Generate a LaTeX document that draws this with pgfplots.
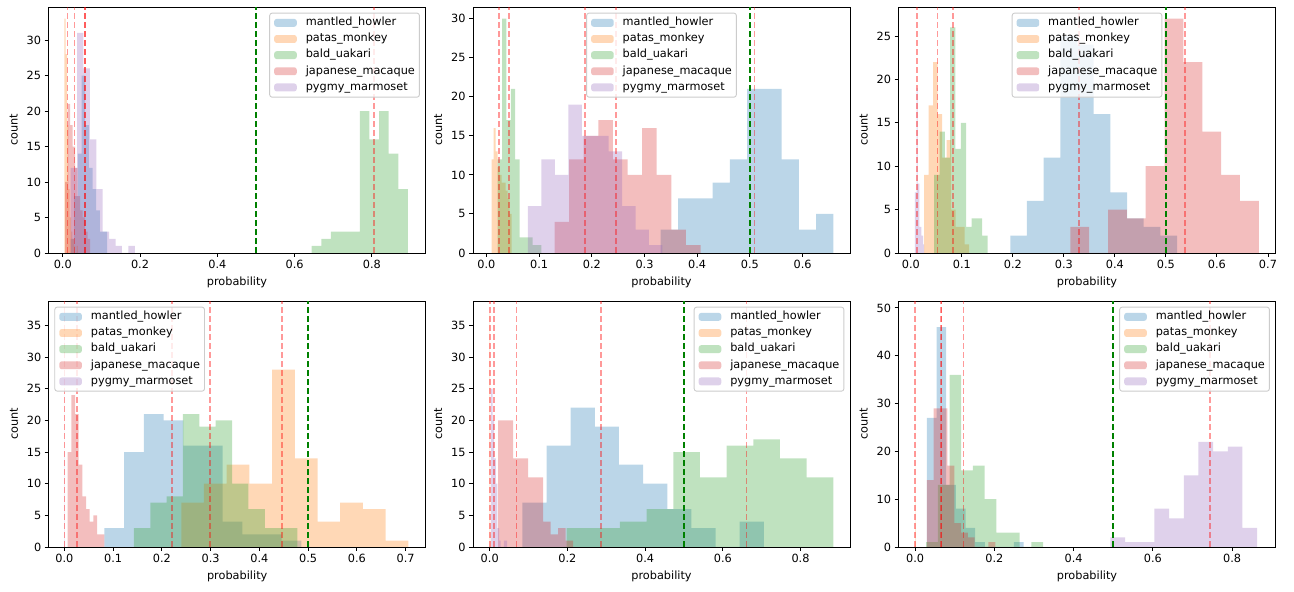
\documentclass[border=0pt]{standalone}
\usepackage{fontspec}
\setmainfont{DejaVu Sans}
\usepackage{pgfplots}
\pgfplotsset{compat=1.18}
\definecolor{c0}{RGB}{31,119,180}
\definecolor{c1}{RGB}{255,127,14}
\definecolor{c2}{RGB}{44,160,44}
\definecolor{c3}{RGB}{214,39,40}
\definecolor{c4}{RGB}{148,103,189}
\definecolor{mplgreen}{RGB}{0,128,0}
\definecolor{mplred}{RGB}{255,0,0}
\pgfplotsset{
  hist/.style={ybar interval, draw=none, fill=#1, fill opacity=0.3,
    legend image code/.code={\fill[fill=#1, fill opacity=0.3] (0pt,-3.95pt) rectangle (22.6pt,3.95pt);
      \path[fill=none, draw=none] (0pt,-3.95pt) rectangle (31.6pt,3.95pt);}},
  rline/.style={draw=mplred, draw opacity=0.4, line width=1.7pt, dash pattern=on 6.3pt off 2.7pt, forget plot},
  gline/.style={draw=mplgreen, draw opacity=1, line width=1.7pt, dash pattern=on 6.3pt off 2.7pt, forget plot},
  panel/.style={
    scale only axis, width=377pt, height=246pt, anchor=south west,
    axis line style={black, line width=0.9pt},
    tick align=outside, xtick pos=bottom, ytick pos=left,
    major tick length=3.95pt,
    tick style={black, line width=0.9pt},
    tick label style={font=\fontsize{11.3}{13.5}\selectfont},
    label style={font=\fontsize{11.3}{13.5}\selectfont},
    xlabel={probability}, ylabel={count}, ylabel shift=2pt, xlabel shift=1pt,
    ymin=0, scaled x ticks=false, scaled y ticks=false,
    xticklabel style={/pgf/number format/.cd, fixed, fixed zerofill, precision=1},
    /pgf/number format/assume math mode=true,
    legend cell align=left,
    legend style={draw=black!20, line width=0.9pt, fill=white, fill opacity=0.8, draw opacity=1, text opacity=1,
      rounded corners=2.5pt, inner xsep=4.5pt, inner ysep=4.5pt, row sep=5.65pt,
      font=\fontsize{11.3}{13.5}\selectfont,
      nodes={inner sep=0pt, text height=8pt, text depth=2.5pt}},
  },
  legUR/.style={legend style={at={(1,1)}, anchor=north east, xshift=-5.65pt, yshift=-5.65pt}},
  legUC/.style={legend style={at={(0.5,1)}, anchor=north, yshift=-5.65pt}},
  legUL/.style={legend style={at={(0,1)}, anchor=north west, xshift=5.65pt, yshift=-5.65pt}},
}
\begin{document}
\begin{tikzpicture}
\useasboundingbox (0,0) rectangle (1294pt,592pt);
% ---------------- Panel 1 ----------------
\begin{axis}[panel, legUR, at={(48.5pt,339pt)}, xmin=-0.037, xmax=0.939, ymax=34.65,
  xtick={0,0.2,0.4,0.6,0.8}, ytick={0,5,10,15,20,25,30}]
\addplot[hist=c0] coordinates {(0.0200,2) (0.0295,8) (0.0390,14) (0.0485,25) (0.0580,18) (0.0675,12) (0.0770,9) (0.0865,6) (0.0960,3) (0.1055,3) (0.1150,0)};
\addplot[hist=c1] coordinates {(0.0040,33) (0.0075,28) (0.0110,18) (0.0145,9) (0.0180,5) (0.0215,3) (0.0250,2) (0.0285,1) (0.0320,0) (0.0355,1) (0.0390,0)};
\addplot[hist=c2] coordinates {(0.6445,1) (0.6694,2) (0.6943,3) (0.7192,3) (0.7441,3) (0.7690,20) (0.7939,16) (0.8188,20) (0.8437,14) (0.8686,9) (0.8935,0)};
\addplot[hist=c3] coordinates {(0.0060,10) (0.0125,21) (0.0190,18) (0.0255,15) (0.0320,12) (0.0385,8) (0.0450,6) (0.0515,5) (0.0580,3) (0.0645,2) (0.0710,0)};
\addplot[hist=c4] coordinates {(0.0204,12) (0.0370,31) (0.0536,26) (0.0702,16) (0.0868,9) (0.1034,3) (0.1200,2) (0.1366,1) (0.1532,0) (0.1698,1) (0.1864,0)};
\addplot[rline] coordinates {(0.0125,0) (0.0125,34.65)};
\addplot[rline] coordinates {(0.0300,0) (0.0300,34.65)};
\addplot[rline] coordinates {(0.0570,0) (0.0570,34.65)};
\addplot[rline] coordinates {(0.0580,0) (0.0580,34.65)};
\addplot[rline] coordinates {(0.8060,0) (0.8060,34.65)};
\addplot[gline] coordinates {(0.5,0) (0.5,34.65)};
\legend{mantled\_howler, patas\_monkey, bald\_uakari, japanese\_macaque, pygmy\_marmoset}
\end{axis}
% ---------------- Panel 2 ----------------
\begin{axis}[panel, legUC, at={(473pt,339pt)}, xmin=-0.0255, xmax=0.690, ymax=31.5,
  xtick={0,0.1,0.2,0.3,0.4,0.5,0.6}, ytick={0,5,10,15,20,25,30}]
\addplot[hist=c0] coordinates {(0.3308,3) (0.3636,7) (0.3964,7) (0.4291,9) (0.4619,12) (0.4947,21) (0.5274,21) (0.5602,12) (0.5930,3) (0.6257,5) (0.6585,0)};
\addplot[hist=c1] coordinates {(0.0100,12) (0.0138,16) (0.0176,13) (0.0214,11) (0.0252,10) (0.0290,9) (0.0328,9) (0.0366,8) (0.0404,7) (0.0442,5) (0.0480,0)};
\addplot[hist=c2] coordinates {(0.0214,12) (0.0297,30) (0.0380,17) (0.0463,21) (0.0546,12) (0.0629,2) (0.0712,2) (0.0795,2) (0.0878,1) (0.0961,1) (0.1044,0)};
\addplot[hist=c3] coordinates {(0.1292,4) (0.1569,12) (0.1846,15) (0.2124,17) (0.2401,12) (0.2678,10) (0.2955,16) (0.3232,10) (0.3510,3) (0.3787,1) (0.4064,0)};
\addplot[hist=c4] coordinates {(0.0788,6) (0.1043,12) (0.1298,10) (0.1554,19) (0.1809,15) (0.2064,15) (0.2319,13) (0.2574,6) (0.2830,3) (0.3085,1) (0.3340,0)};
\addplot[rline] coordinates {(0.0233,0) (0.0233,31.5)};
\addplot[rline] coordinates {(0.0428,0) (0.0428,31.5)};
\addplot[rline] coordinates {(0.1870,0) (0.1870,31.5)};
\addplot[rline] coordinates {(0.2460,0) (0.2460,31.5)};
\addplot[rline] coordinates {(0.5090,0) (0.5090,31.5)};
\addplot[gline] coordinates {(0.5,0) (0.5,31.5)};
\legend{mantled\_howler, patas\_monkey, bald\_uakari, japanese\_macaque, pygmy\_marmoset}
\end{axis}
% ---------------- Panel 3 ----------------
\begin{axis}[panel, legUC, at={(898.5pt,339pt)}, xmin=-0.0242, xmax=0.7148, ymax=28.35,
  xtick={0,0.1,0.2,0.3,0.4,0.5,0.6,0.7}, ytick={0,5,10,15,20,25}]
\addplot[hist=c0] coordinates {(0.1949,2) (0.2276,6) (0.2603,11) (0.2930,25) (0.3257,24) (0.3584,16) (0.3911,7) (0.4238,4) (0.4565,3) (0.4892,2) (0.5219,0)};
\addplot[hist=c1] coordinates {(0.0260,9) (0.0348,17) (0.0436,22) (0.0524,16) (0.0612,11) (0.0700,13) (0.0788,5) (0.0876,3) (0.0964,3) (0.1052,1) (0.1140,0)};
\addplot[hist=c2] coordinates {(0.0457,9) (0.0562,14) (0.0666,11) (0.0771,26) (0.0875,12) (0.0980,15) (0.1085,3) (0.1189,4) (0.1294,4) (0.1398,2) (0.1503,0)};
\addplot[hist=c3] coordinates {(0.3126,3) (0.3495,0) (0.3865,5) (0.4234,4) (0.4604,10) (0.4973,27) (0.5342,22) (0.5712,14) (0.6081,9) (0.6451,6) (0.6820,0)};
\addplot[hist=c4] coordinates {(0.0078,7) (0.0096,7) (0.0114,19) (0.0132,8) (0.0150,8) (0.0168,3) (0.0186,3) (0.0204,2) (0.0222,2) (0.0240,1) (0.0258,0)};
\addplot[rline] coordinates {(0.0120,0) (0.0120,28.35)};
\addplot[rline] coordinates {(0.0523,0) (0.0523,28.35)};
\addplot[rline] coordinates {(0.0824,0) (0.0824,28.35)};
\addplot[rline] coordinates {(0.3300,0) (0.3300,28.35)};
\addplot[rline] coordinates {(0.5380,0) (0.5380,28.35)};
\addplot[gline] coordinates {(0.5,0) (0.5,28.35)};
\legend{mantled\_howler, patas\_monkey, bald\_uakari, japanese\_macaque, pygmy\_marmoset}
\end{axis}
% ---------------- Panel 4 ----------------
\begin{axis}[panel, legUL, at={(48.7pt,45pt)}, xmin=-0.0322, xmax=0.7411, ymax=38.85,
  xtick={0,0.1,0.2,0.3,0.4,0.5,0.6,0.7}, ytick={0,5,10,15,20,25,30,35}]
\addplot[hist=c0] coordinates {(0.0822,3) (0.1226,15) (0.1630,21) (0.2034,20) (0.2438,16) (0.2842,16) (0.3246,4) (0.3650,2) (0.4054,2) (0.4458,1) (0.4862,0)};
\addplot[hist=c1] coordinates {(0.2397,7) (0.2863,10) (0.3329,13) (0.3795,10) (0.4260,28) (0.4726,14) (0.5192,4) (0.5658,7) (0.6124,6) (0.6590,1) (0.7055,0)};
\addplot[hist=c2] coordinates {(0.1425,3) (0.1761,7) (0.2096,8) (0.2432,21) (0.2767,19) (0.3103,20) (0.3439,10) (0.3774,6) (0.4110,3) (0.4445,3) (0.4781,0)};
\addplot[hist=c3] coordinates {(0.0068,15) (0.0143,24) (0.0219,21) (0.0294,13) (0.0369,8) (0.0445,6) (0.0520,4) (0.0595,5) (0.0670,2) (0.0746,2) (0.0821,0)};
\addplot[hist=c4] coordinates {(0.0000,37) (0.0001,20) (0.0002,15) (0.0003,10) (0.0004,7) (0.0005,5) (0.0006,3) (0.0007,1) (0.0008,1) (0.0009,1) (0.0010,0)};
\addplot[rline] coordinates {(0.0000,0) (0.0000,38.85)};
\addplot[rline] coordinates {(0.0260,0) (0.0260,38.85)};
\addplot[rline] coordinates {(0.2205,0) (0.2205,38.85)};
\addplot[rline] coordinates {(0.2980,0) (0.2980,38.85)};
\addplot[rline] coordinates {(0.4466,0) (0.4466,38.85)};
\addplot[gline] coordinates {(0.5,0) (0.5,38.85)};
\legend{mantled\_howler, patas\_monkey, bald\_uakari, japanese\_macaque, pygmy\_marmoset}
\end{axis}
% ---------------- Panel 5 ----------------
\begin{axis}[panel, legUR, at={(473pt,45pt)}, xmin=-0.043, xmax=0.9273, ymax=38.85,
  xtick={0,0.2,0.4,0.6,0.8}, ytick={0,5,10,15,20,25,30,35}]
\addplot[hist=c0] coordinates {(0.0843,7) (0.1464,16) (0.2085,22) (0.2706,19) (0.3327,13) (0.3948,10) (0.4570,6) (0.5191,3) (0.5812,0) (0.6433,4) (0.7054,0)};
\addplot[hist=c1] coordinates {(0.0000,37) (0.0002,25) (0.0004,15) (0.0006,10) (0.0008,5) (0.0010,3) (0.0012,2) (0.0014,1) (0.0016,1) (0.0018,1) (0.0020,0)};
\addplot[hist=c2] coordinates {(0.1978,3) (0.2665,3) (0.3351,4) (0.4038,6) (0.4724,15) (0.5411,11) (0.6097,16) (0.6784,17) (0.7470,14) (0.8157,11) (0.8843,0)};
\addplot[hist=c3] coordinates {(0.0215,20) (0.0408,20) (0.0601,14) (0.0794,14) (0.0987,11) (0.1180,11) (0.1373,4) (0.1566,2) (0.1759,3) (0.1952,1) (0.2145,0)};
\addplot[hist=c4] coordinates {(0.0030,25) (0.0072,20) (0.0114,14) (0.0156,10) (0.0198,3) (0.0240,1) (0.0282,0) (0.0324,0) (0.0366,1) (0.0408,1) (0.0450,0)};
\addplot[rline] coordinates {(0.0000,0) (0.0000,38.85)};
\addplot[rline] coordinates {(0.0103,0) (0.0103,38.85)};
\addplot[rline] coordinates {(0.0688,0) (0.0688,38.85)};
\addplot[rline] coordinates {(0.2865,0) (0.2865,38.85)};
\addplot[rline] coordinates {(0.6606,0) (0.6606,38.85)};
\addplot[gline] coordinates {(0.5,0) (0.5,38.85)};
\legend{mantled\_howler, patas\_monkey, bald\_uakari, japanese\_macaque, pygmy\_marmoset}
\end{axis}
% ---------------- Panel 6 ----------------
\begin{axis}[panel, legUR, at={(898.5pt,45pt)}, xmin=-0.0421, xmax=0.9095, ymax=51.45,
  xtick={0,0.2,0.4,0.6,0.8}, ytick={0,10,20,30,40,50}]
\addplot[hist=c0] coordinates {(0.0295,27) (0.0539,46) (0.0783,13) (0.1027,8) (0.1271,4) (0.1515,1) (0.1759,0) (0.2003,0) (0.2247,0) (0.2491,1) (0.2735,0)};
\addplot[hist=c1] coordinates {(0.0000,4) (0.0002,49) (0.0004,20) (0.0006,10) (0.0008,8) (0.0010,4) (0.0012,2) (0.0014,1) (0.0016,1) (0.0018,1) (0.0020,0)};
\addplot[hist=c2] coordinates {(0.0277,1) (0.0572,13) (0.0867,36) (0.1162,16) (0.1457,17) (0.1752,10) (0.2047,3) (0.2342,3) (0.2637,0) (0.2932,1) (0.3227,0)};
\addplot[hist=c3] coordinates {(0.0295,14) (0.0468,29) (0.0640,29) (0.0813,17) (0.0986,5) (0.1158,3) (0.1331,2) (0.1503,0) (0.1676,0) (0.1849,1) (0.2021,0)};
\addplot[hist=c4] coordinates {(0.4926,2) (0.5297,1) (0.5667,1) (0.6038,8) (0.6408,6) (0.6779,15) (0.7150,22) (0.7520,20) (0.7891,21) (0.8261,4) (0.8632,0)};
\addplot[rline] coordinates {(0.0000,0) (0.0000,51.45)};
\addplot[rline] coordinates {(0.0657,0) (0.0657,51.45)};
\addplot[rline] coordinates {(0.0665,0) (0.0665,51.45)};
\addplot[rline] coordinates {(0.1220,0) (0.1220,51.45)};
\addplot[rline] coordinates {(0.7450,0) (0.7450,51.45)};
\addplot[gline] coordinates {(0.5,0) (0.5,51.45)};
\legend{mantled\_howler, patas\_monkey, bald\_uakari, japanese\_macaque, pygmy\_marmoset}
\end{axis}
\end{tikzpicture}
\end{document}
